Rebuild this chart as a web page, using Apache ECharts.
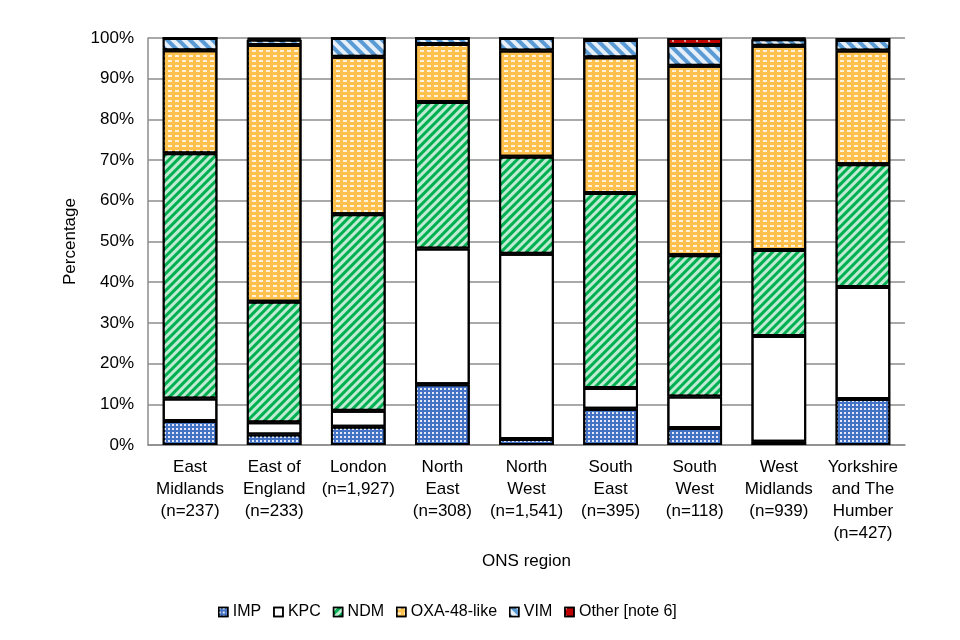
<!DOCTYPE html>
<html>
<head>
<meta charset="utf-8">
<script src="https://cdn.jsdelivr.net/npm/echarts@6/dist/echarts.min.js"></script>
<style>html,body{margin:0;padding:0;background:#fff}#c{width:960px;height:640px}</style>
</head>
<body>
<div id="c"></div>
<script>
const categories = ["East\nMidlands\n(n=237)", "East of\nEngland\n(n=233)", "London\n(n=1,927)", "North\nEast\n(n=308)", "North\nWest\n(n=1,541)", "South\nEast\n(n=395)", "South\nWest\n(n=118)", "West\nMidlands\n(n=939)", "Yorkshire\nand The\nHumber\n(n=427)"];
const IMP = [5.9, 2.6, 4.5, 14.9, 1.5, 8.9, 4.2, 0.8, 11.3];
const KPC = [5.5, 3.0, 3.9, 33.4, 45.5, 5.1, 7.7, 26.0, 27.5];
const NDM = [60.3, 29.6, 48.3, 36.0, 23.8, 47.9, 34.7, 21.1, 30.2];
const OXA = [25.3, 63.1, 38.7, 14.2, 26.1, 33.4, 46.6, 50.2, 27.9];
const VIM = [3.0, 1.3, 4.6, 1.5, 3.1, 4.2, 5.1, 1.6, 2.6];
const OTHER = [0, 0.4, 0, 0, 0, 0.5, 1.7, 0.3, 0.5];
const yTicks = [0, 10, 20, 30, 40, 50, 60, 70, 80, 90, 100];

const FONT = 'Liberation Sans';
const chart = echarts.init(document.getElementById('c'), null, {renderer: 'canvas'});

function mk(name, data, color, decal) {
  return {
    name: name, type: 'bar', stack: 'total', data: data, barWidth: '65%',
    itemStyle: {color: color, borderColor: '#000', borderWidth: 2, decal: decal},
    emphasis: {disabled: true}
  };
}

chart.setOption({
  animation: false,
  aria: {enabled: false},
  grid: {left: 148, right: 55, top: 38, bottom: 195, containLabel: false},
  legend: {
    left: 213, top: 599, itemWidth: 9, itemHeight: 9, itemGap: 12, icon: 'rect',
    itemStyle: {borderColor: '#000', borderWidth: 1.5},
    textStyle: {fontFamily: FONT, fontSize: 16, color: '#000'},
    data: ['IMP', 'KPC', 'NDM', 'OXA-48-like', 'VIM', 'Other [note 6]']
  },
  xAxis: {
    type: 'category', data: categories,
    name: 'ONS region', nameLocation: 'middle', nameGap: 108,
    nameTextStyle: {fontFamily: FONT, fontSize: 17, color: '#000'},
    axisLine: {lineStyle: {color: '#8c8c8c', width: 1.5}},
    axisTick: {show: false},
    axisLabel: {fontFamily: FONT, fontSize: 17, color: '#000', lineHeight: 22, margin: 11, interval: 0}
  },
  yAxis: {
    type: 'value', min: 0, max: 100, interval: 10,
    name: 'Percentage', nameLocation: 'middle', nameGap: 69,
    nameTextStyle: {fontFamily: FONT, fontSize: 17, color: '#000'},
    axisLine: {show: true, lineStyle: {color: '#8c8c8c', width: 1.5}},
    axisTick: {show: false},
    splitLine: {lineStyle: {color: '#8c8c8c', width: 1.5}},
    axisLabel: {fontFamily: FONT, fontSize: 17, color: '#000', margin: 14,
      formatter: v => yTicks.includes(v) ? v + '%' : ''}
  },
  series: [
    mk('IMP', IMP, '#4472C4', {symbol: 'rect', symbolSize: 1, color: 'rgba(255,255,255,0.85)', dashArrayX: [2, 2], dashArrayY: [2, 2]}),
    mk('KPC', KPC, '#ffffff', {symbol: 'none', color: 'rgba(0,0,0,0)'}),
    mk('NDM', NDM, '#00B050', {symbol: 'rect', symbolSize: 1, color: 'rgba(255,255,255,0.75)', dashArrayX: [1, 0], dashArrayY: [3, 3], rotation: -Math.PI / 4}),
    mk('OXA-48-like', OXA, '#FFC04D', {symbol: 'rect', symbolSize: 1, color: 'rgba(255,255,255,0.8)', dashArrayX: [4, 3], dashArrayY: [1.5, 3]}),
    mk('VIM', VIM, '#5B9BD5', {symbol: 'rect', symbolSize: 1, color: 'rgba(255,255,255,0.85)', dashArrayX: [1, 0], dashArrayY: [4, 4], rotation: Math.PI / 4}),
    mk('Other [note 6]', OTHER, '#C00000', {symbol: 'rect', symbolSize: 1, color: 'rgba(255,255,255,0.6)', dashArrayX: [1.5, 10], dashArrayY: [1.5, 6]})
  ]
});
</script>
</body>
</html>
